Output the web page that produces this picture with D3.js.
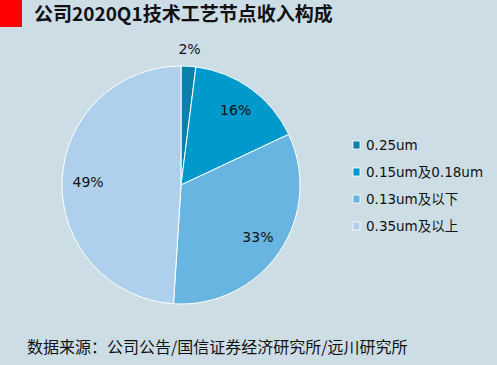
<!DOCTYPE html>
<html>
<head>
<meta charset="utf-8">
<script src="https://cdn.jsdelivr.net/npm/d3@7"></script>
<style>
  html, body { margin: 0; padding: 0; background: #cddde6; }
  svg { display: block; font-family: "Noto Sans CJK SC", "Noto Sans", sans-serif; }
  .latin { font-family: "DejaVu Sans", "Noto Sans CJK SC", sans-serif; }
</style>
</head>
<body>
<svg width="497" height="365"></svg>
<script>
(function(d3) {
    "use strict";

    // data
    var categories = ["0.25um", "0.15um及0.18um", "0.13um及以下", "0.35um及以上"],
        shares = [2, 16, 33, 49],
        labels = ["2%", "16%", "33%", "49%"],
        colors = ["#0a80aa", "#0099cc", "#69b5e1", "#aed0ec"];

    var svg = d3.select("svg"),
        cx = 181,
        cy = 185,
        radius = 119;

    svg.append("rect").attr("width", 497).attr("height", 365).attr("fill", "#cddde6");

    // title bar
    svg.append("rect").attr("x", 0).attr("y", 0).attr("width", 22).attr("height", 27).attr("fill", "#ff0000");
    svg.append("text")
        .attr("x", 34).attr("y", 21)
        .attr("font-size", 19).attr("font-weight", "bold").attr("fill", "#111")
        .text("公司2020Q1技术工艺节点收入构成");

    var pie = d3.pie().sort(null).value(function(d) { return d; }),
        arcs = pie(shares),
        arc = d3.arc().innerRadius(0).outerRadius(radius),
        labelArc = d3.arc().innerRadius(93).outerRadius(93),
        outerArc = d3.arc().innerRadius(136).outerRadius(136);

    var g = svg.append("g").attr("transform", "translate(" + cx + "," + cy + ")");

    g.selectAll(".slice").data(arcs).enter().append("path")
        .attr("class", "slice")
        .attr("d", arc)
        .attr("fill", function(d, i) { return colors[i]; })
        .attr("stroke", "#ffffff")
        .attr("stroke-width", 1);

    g.selectAll(".lbl").data(arcs).enter().append("text")
        .attr("class", "lbl latin")
        .attr("transform", function(d) {
            var p = (d.data < 5 ? outerArc : labelArc).centroid(d);
            return "translate(" + p[0] + "," + p[1] + ")";
        })
        .attr("text-anchor", "middle")
        .attr("dy", "0.35em")
        .attr("font-size", 14)
        .attr("fill", "#111")
        .text(function(d, i) { return labels[i]; });

    // legend
    var legend = svg.append("g").attr("transform", "translate(353,145)"),
        rows = legend.selectAll(".row").data(categories).enter().append("g")
            .attr("class", "row")
            .attr("transform", function(d, i) { return "translate(0," + (i * 27) + ")"; });

    rows.append("rect")
        .attr("x", 0).attr("y", -4).attr("width", 7).attr("height", 8)
        .attr("fill", function(d, i) { return colors[i]; })
        .attr("stroke", "#ffffff").attr("stroke-width", 0.8);

    rows.append("text")
        .attr("class", "latin")
        .attr("x", 13).attr("dy", "0.35em")
        .attr("font-size", 13.5).attr("fill", "#111")
        .text(function(d) { return d; });

    // source note
    svg.append("text")
        .attr("x", 27).attr("y", 353)
        .attr("font-size", 16).attr("fill", "#111")
        .text("数据来源：公司公告/国信证券经济研究所/远川研究所");

}(d3));
</script>
</body>
</html>
